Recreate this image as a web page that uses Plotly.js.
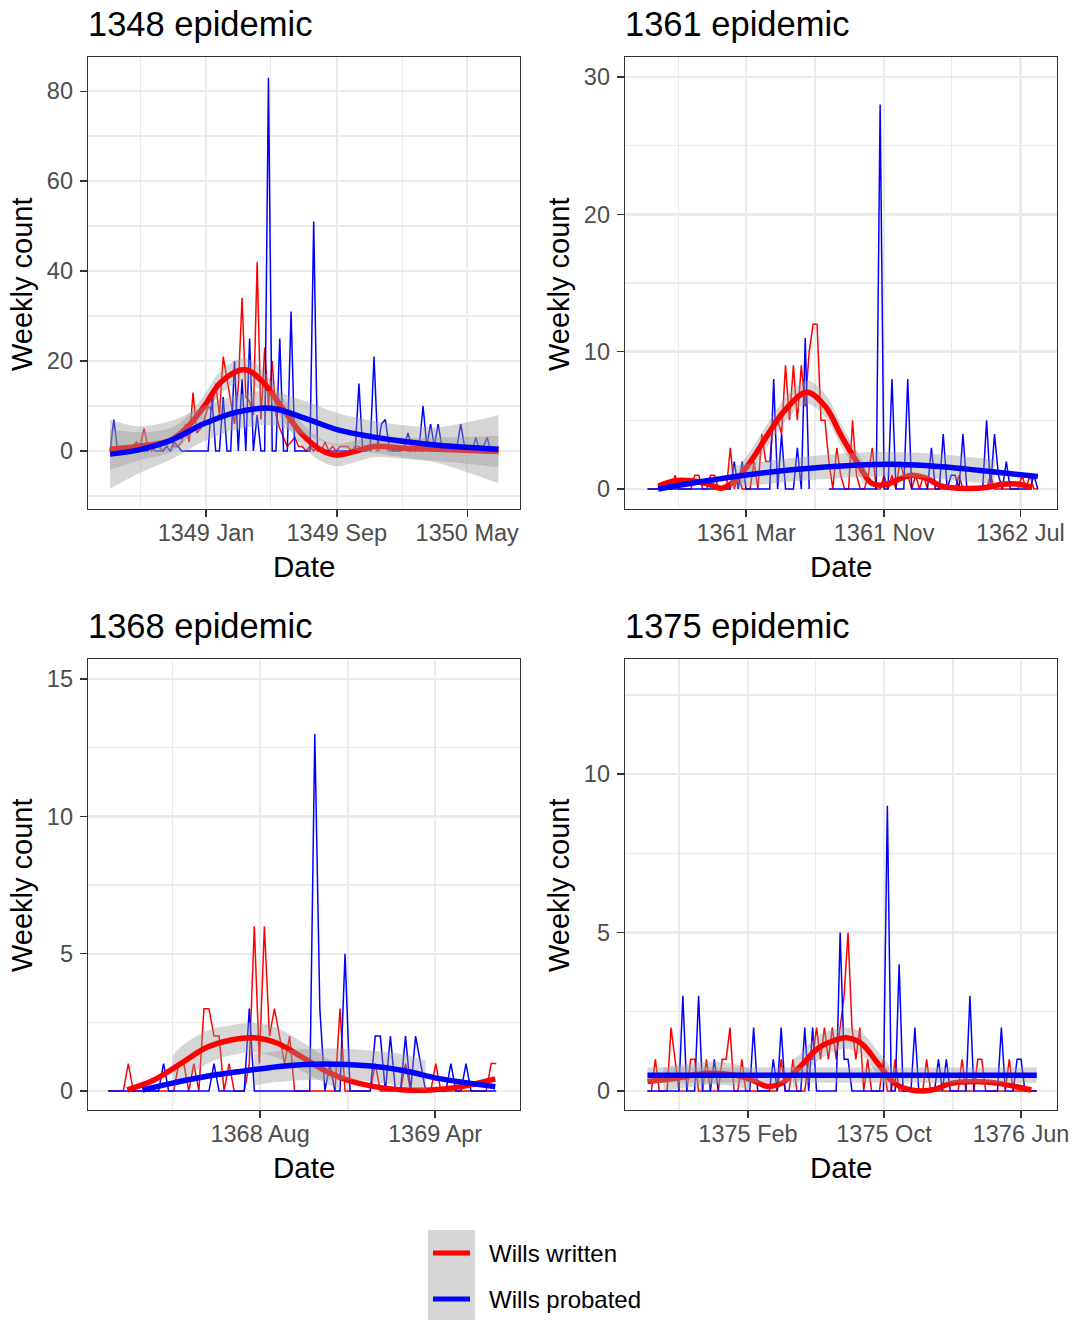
<!DOCTYPE html>
<html><head><meta charset="utf-8">
<script src="https://cdn.plot.ly/plotly-3.0.1.min.js"></script>
<style>html,body{margin:0;padding:0;background:#fff}#chart{width:1074px;height:1320px}</style>
</head><body><div id="chart"></div>
<script>
// ---------------- data ----------------
const seriesNames = ['Wills written', 'Wills probated'];
const panelTitles = ['1348 epidemic', '1361 epidemic', '1368 epidemic', '1375 epidemic'];
const weekStart = ['1348-07-07', '1360-09-07', '1368-01-03', '1374-08-06'];

// weekly counts
const written1348 = [0,0,1,1,0,0,1,2,1,5, 1,0,1,1,0,1,3,1,1,2, 6,2,13,4,5,7,10,9,15,8, 21,16,12,6,14,34,12,11,8,42,
  7,23,10,20,8,5,3,1,2,3, 1,1,0,1,0,1,0,2,0,1, 0,1,1,1,0,1,1,0,1,0, 1,0,1,1,0,0,1,0,1,0, 0,1,0,0,1,0,0,0,1,0,
  0,0,1,0,0,0,0,1,0,0, 0,0,0,0];
const probated1348 = [0,7,0,0,0,1,0,0,0,0, 0,1,0,0,0,1,0,2,1,0, 0,0,0,0,0,0,0,12,0,0, 12,0,0,20,0,16,0,25,0,8,
  0,0,83,0,0,25,0,0,31,0, 0,0,0,0,51,0,0,0,0,0, 0,0,0,0,0,0,15,0,0,1, 21,1,6,7,1,0,0,0,1,4, 1,0,1,10,1,6,1,6,1,0,
  0,0,1,6,1,0,0,3,0,1, 3,0,0,1];
const written1361 = [0,0,0,0,0,0,0,1,0,0, 0,0,1,1,0,0,1,1,0,0, 0,3,0,1,0,0,0,2,0,4, 2,2,5,5,4,9,5,9,5,9,
  6,10,12,12,5,5,2,0,3,1, 0,0,5,1,0,0,1,3,0,0, 1,0,1,0,2,1,1,0,1,0, 1,0,0,0,0,0,0,0,0,1, 0,0,0,0,0,0,0,1,0,0,
  0,0,0,0,0,1,0,1,0,0];
const probated1361 = [0,0,0,0,0,0,0,0,0,0, 0,0,0,0,0,0,0,0,0,0, 0,0,2,0,2,0,0,0,0,0, 0,0,8,0,4,0,0,0,3,0,
  11,0,null,null,null,null,0,0,0,0, 0,0,0,0,0,0,0,0,0,28, 0,0,8,0,0,0,8,0,0,0, 0,0,3,0,0,4,0,1,1,0,
  4,0,0,0,0,0,5,0,4,1, 0,2,0,0,0,0,0,0,1,0];
const written1368 = [0,0,0,0,1,0,0,0,0,0, 0,0,0,0,1,1,0,1,0,3, 3,2,2,0,1,0,0,0,1,6, 1,6,2,3,2,1,2,0,0,0,
  0,0,0,0,0,0,3,0,0,0, 0,0,0,1,0,0,0,0,0,1, 0,0,0,0,0,1,0,0,0,0, 0,0,0,0,0,0,1,1];
const probated1368 = [0,0,0,0,0,0,0,0,0,0, 0,1,0,0,0,0,0,0,0,0, 0,1,0,0,0,0,0,0,3,0, 0,0,0,0,0,0,0,0,0,0,
  0,13,3,0,1,0,0,5,0,0, 0,0,0,2,2,0,2,0,0,2, 0,2,1,0,0,0,0,0,1,0, 0,1,0,0,0,0,0,0];
const written1375 = [0,0,1,0,0,0,2,1,0,0, 0,1,1,0,0,1,0,0,0,1, 1,2,0,0,1,0,0,0,0,0, 0,0,0,0,1,0,0,1,0,0,
  0,1,1,2,1,2,1,2,1,2, 3,5,2,1,2,0,1,0,0,0, 1,0,0,1,0,0,0,0,0,0, 0,1,0,0,0,0,0,0,0,0, 1,0,0,0,1,1,0,0,0,0,
  0,0,1,0,0,0,0,0,0,0];
const probated1375 = [0,0,0,0,0,0,0,0,0,3, 0,0,0,3,0,0,0,1,0,0, 0,0,0,0,0,0,0,2,0,0, 0,0,1,0,2,0,0,0,0,0,
  2,0,2,0,0,0,0,0,0,5, 1,1,0,0,0,0,0,0,0,0, 0,9,0,0,4,0,0,0,2,0, 0,0,0,0,1,0,1,0,0,0, 0,0,3,0,0,0,0,0,0,0,
  2,0,0,0,1,1,0,0,0,0];

// smoothed fits (week offset, value) and confidence bands
const written1348FitWeek = [0,7.3,16,20.6,25,29.5,35.7,40,45.4,50.7,56,60,64.9,70,78,87,103];
const written1348Fit = [0.4,1.0,2.4,5.4,10,15.4,18.1,15.8,9.9,3.9,0.2,-0.9,-0.1,1.0,0.6,0.4,-0.1];
const written1348BandWeek = [0,7.3,16,20.6,25,29.5,35.7,40,45.4,50.7,56,60,64.9,70,78,87,103];
const written1348BandLo = [-4.1,-2.2,-0.3,2.9,7.5,12.9,15.5,13.3,7.4,1.4,-2.3,-3.4,-2.5,-1.4,-1.8,-2.2,-3.6];
const written1348BandHi = [4.9,4.2,5.1,7.9,12.5,17.9,20.7,18.3,12.4,6.4,2.7,1.6,2.3,3.4,3.0,3.0,3.4];
const probated1348FitWeek = [0,7.3,16.2,25,33.9,42.7,51.6,60.4,69.3,78.1,87,103];
const probated1348Fit = [-0.7,0.2,2.4,6.1,8.7,9.5,7.3,4.7,3.2,2.1,1.3,0.4];
const probated1348BandWeek = [0,7.3,16.2,25,33.9,42.7,51.6,60.4,69.3,78.1,87,103];
const probated1348BandLo = [-8.4,-5.1,-1.9,2.2,4.9,5.7,3.5,1.0,-0.4,-1.5,-2.7,-7.2];
const probated1348BandHi = [7.0,5.5,6.7,10.0,12.5,13.3,11.1,8.4,6.8,5.7,5.3,8.0];

const written1361FitWeek = [2.7,6.9,11.2,15.4,18.8,22.2,26.4,30.7,34.9,40.4,45.1,49.3,53.6,56.9,60.3,63.7,67.1,70.5,74.7,79,85.8,90,94.2,97.6];
const written1361Fit = [0.2,0.6,0.6,0.35,0.05,0.6,2.1,4.05,5.75,7.04,6.0,3.8,1.75,0.4,0.3,0.7,1.0,0.8,0.2,0.05,0.1,0.35,0.35,0.1];
const written1361BandWeek = [23.5,26.4,30.7,34.9,40.4,45.1,49.3,53.6,55.3];
const written1361BandLo = [0.2,1.3,3.2,4.9,6.2,5.2,3.0,1.0,0.15];
const written1361BandHi = [1.8,2.9,4.9,6.6,7.9,6.9,4.6,2.5,1.7];
const probated1361FitWeek = [2.7,19.7,36.6,53.6,62,70.5,79,87.5,99];
const probated1361Fit = [0,0.8,1.4,1.75,1.8,1.7,1.5,1.26,0.9];
const probated1361BandWeek = [21,36.6,53.6,62,70.5,79,88];
const probated1361BandLo = [0.05,0.55,0.85,0.9,0.8,0.6,0.35];
const probated1361BandHi = [1.65,2.25,2.65,2.7,2.6,2.4,2.15];

const written1368FitWeek = [3.8,9.1,14.4,19.7,24.4,29,33.6,38.3,42.9,47.5,52.8,58.8,64.1,70.1,76.8];
const written1368Fit = [0.04,0.4,1.0,1.6,1.86,1.94,1.74,1.25,0.76,0.4,0.16,0.04,0.04,0.16,0.44];
const written1368BandWeek = [12.8,14.4,19.7,24.4,29,33.6,38.3,42.9,46];
const written1368BandLo = [0.05,0.3,1.0,1.3,1.4,1.2,0.75,0.3,0.05];
const written1368BandHi = [1.3,1.6,2.2,2.4,2.48,2.3,1.8,1.25,0.95];
const probated1368FitWeek = [6.8,12.5,19.1,25.7,32.3,38.9,45.6,52.2,58.8,65.4,72,76.8];
const probated1368Fit = [0.04,0.28,0.52,0.7,0.86,0.97,0.98,0.91,0.74,0.46,0.28,0.16];
const probated1368BandWeek = [29,32.3,38.9,45.6,52.2,58.8,63];
const probated1368BandLo = [0.2,0.3,0.4,0.42,0.35,0.15,0.03];
const probated1368BandHi = [1.35,1.42,1.53,1.55,1.48,1.33,1.1];

const written1375FitWeek = [0,6.9,15.4,22.2,26.4,30.7,34.1,38.3,43.4,47.6,50.6,54.4,58.6,62.9,67.1,72.2,77.3,83.2,89.2,97.6];
const written1375Fit = [0.3,0.4,0.56,0.5,0.35,0.14,0.24,0.7,1.35,1.6,1.68,1.5,0.87,0.24,0.03,0.03,0.24,0.3,0.24,0.03];
const written1375BandWeek = [4,10,15.4,22.2,26,null,37,38.3,43.4,47.6,50.6,54.4,58.6,61.5];
const written1375BandLo = [0.02,0.1,0.2,0.15,0.02,null,0.05,0.3,0.95,1.25,1.33,1.15,0.5,0.05];
const written1375BandHi = [0.75,0.85,0.92,0.85,0.7,null,1.0,1.1,1.75,1.95,2.0,1.85,1.25,0.8];
const probated1375FitWeek = [0,99];
const probated1375Fit = [0.5,0.5];
const probated1375BandWeek = [0,99];
const probated1375BandLo = [0.26,0.26];
const probated1375BandHi = [0.74,0.74];

// axis ticks
const xTickVals = [['1349-01-01','1349-09-01','1350-05-01'], ['1361-03-01','1361-11-01','1362-07-01'], ['1368-08-01','1369-04-01'], ['1375-02-01','1375-10-01','1376-06-01']];
const xTickText = [['1349 Jan','1349 Sep','1350 May'], ['1361 Mar','1361 Nov','1362 Jul'], ['1368 Aug','1369 Apr'], ['1375 Feb','1375 Oct','1376 Jun']];
const xMinorVals = [['1348-09-01','1349-05-01','1350-01-01'], ['1360-11-01','1361-07-01','1362-03-01'], ['1368-04-01','1368-12-01'], ['1374-10-01','1375-06-01','1376-02-01']];
const yTickVals = [[0,20,40,60,80],[0,10,20,30],[0,5,10,15],[0,5,10]];
const yMinorVals = [[-10,10,30,50,70],[5,15,25],[2.5,7.5,12.5],[2.5,7.5,12.5]];

// ---------------- helpers ----------------
function addDays(start, d) {
  const t = Date.parse(start + 'T00:00:00Z') + d * 86400000;
  const dt = new Date(t);
  const p = n => String(n).padStart(2, '0');
  return dt.getUTCFullYear() + '-' + p(dt.getUTCMonth() + 1) + '-' + p(dt.getUTCDate()) + ' ' + p(dt.getUTCHours()) + ':' + p(dt.getUTCMinutes());
}
const weekDates = (start, weeks) => weeks.map(w => w == null ? null : addDays(start, 7 * w));
const idx = arr => arr.map((_, i) => i);
function segments(ws, lo, hi) {
  const segs = []; let cur = null;
  ws.forEach((w, i) => {
    if (w == null) { cur = null; return; }
    if (!cur) { cur = {w: [], lo: [], hi: []}; segs.push(cur); }
    cur.w.push(w); cur.lo.push(lo[i]); cur.hi.push(hi[i]);
  });
  return segs;
}

const RED = '#FF0000', BLUE = '#0000FF', BAND = 'rgba(153,153,153,0.4)';
const panels = [
  {raw: [written1348, probated1348],
   fit: [[written1348FitWeek, written1348Fit], [probated1348FitWeek, probated1348Fit]],
   band: [[written1348BandWeek, written1348BandLo, written1348BandHi], [probated1348BandWeek, probated1348BandLo, probated1348BandHi]]},
  {raw: [written1361, probated1361],
   fit: [[written1361FitWeek, written1361Fit], [probated1361FitWeek, probated1361Fit]],
   band: [[written1361BandWeek, written1361BandLo, written1361BandHi], [probated1361BandWeek, probated1361BandLo, probated1361BandHi]]},
  {raw: [written1368, probated1368],
   fit: [[written1368FitWeek, written1368Fit], [probated1368FitWeek, probated1368Fit]],
   band: [[written1368BandWeek, written1368BandLo, written1368BandHi], [probated1368BandWeek, probated1368BandLo, probated1368BandHi]]},
  {raw: [written1375, probated1375],
   fit: [[written1375FitWeek, written1375Fit], [probated1375FitWeek, probated1375Fit]],
   band: [[written1375BandWeek, written1375BandLo, written1375BandHi], [probated1375BandWeek, probated1375BandLo, probated1375BandHi]]}
];
const colors = [RED, BLUE];

const traces = [];
panels.forEach((p, pi) => {
  const k = pi === 0 ? '' : String(pi + 1);
  const ax = {xaxis: 'x' + k, yaxis: 'y' + k};
  const start = weekStart[pi];
  p.raw.forEach((vals, si) => {
    traces.push(Object.assign({type: 'scatter', mode: 'lines', name: seriesNames[si], showlegend: false,
      x: weekDates(start, idx(vals)), y: vals, connectgaps: false,
      line: {color: colors[si], width: 1.5}}, ax));
  });
  [0, 1].forEach(si => {
    const [bw, blo, bhi] = p.band[si];
    segments(bw, blo, bhi).forEach(seg => {
      traces.push(Object.assign({type: 'scatter', mode: 'lines', showlegend: false, hoverinfo: 'skip',
        x: weekDates(start, seg.w), y: seg.lo, line: {width: 0, shape: 'spline', smoothing: 1}}, ax));
      traces.push(Object.assign({type: 'scatter', mode: 'lines', showlegend: false, hoverinfo: 'skip',
        x: weekDates(start, seg.w), y: seg.hi, fill: 'tonexty', fillcolor: BAND,
        line: {width: 0, shape: 'spline', smoothing: 1}}, ax));
    });
    const [fw, fv] = p.fit[si];
    traces.push(Object.assign({type: 'scatter', mode: 'lines', name: seriesNames[si] + ' (smoothed)', showlegend: false,
      x: weekDates(start, fw), y: fv, line: {color: colors[si], width: 5.5, shape: 'spline', smoothing: 1}}, ax));
  });
});

// ---------------- layout ----------------
const W = 1074, H = 1320, ML = 88, MR = 17, MT = 57, MB = 210;
const PW = W - ML - MR, PH = H - MT - MB;
const px = x => (x - ML) / PW;
const py = y => (H - MB - y) / PH;
const FONT = 'Liberation Sans, Arial, Helvetica, sans-serif';

const xDomains = [[px(88), px(520)], [px(625), px(1057)], [px(88), px(520)], [px(625), px(1057)]];
const yDomains = [[py(509), py(57)], [py(509), py(57)], [py(1110), py(659)], [py(1110), py(659)]];
const xRanges = [['1348-05-27','1350-08-07'], ['1360-07-29','1362-09-04'], ['1367-12-06','1369-07-28'], ['1374-06-27','1376-08-04']];
const yRanges = [[-12.9, 87.6], [-1.46, 31.46], [-0.69, 15.73], [-0.6, 13.63]];

const layout = {
  width: W, height: H, margin: {l: ML, r: MR, t: MT, b: MB},
  paper_bgcolor: '#FFFFFF', plot_bgcolor: '#FFFFFF', showlegend: false,
  font: {family: FONT, color: '#000000'},
  annotations: [], shapes: []
};
const common = {
  showline: true, linecolor: '#333333', linewidth: 1.3, mirror: true,
  ticks: 'outside', ticklen: 7, tickwidth: 1.3, tickcolor: '#333333',
  tickfont: {family: FONT, size: 23.5, color: '#4D4D4D'},
  showgrid: true, gridcolor: '#EBEBEB', gridwidth: 2.4, zeroline: false, automargin: false, fixedrange: true
};
for (let i = 0; i < 4; i++) {
  const k = i === 0 ? '' : String(i + 1);
  layout['xaxis' + k] = Object.assign({}, common, {
    domain: xDomains[i], anchor: 'y' + k, type: 'date', range: xRanges[i],
    tickmode: 'array', tickvals: xTickVals[i], ticktext: xTickText[i], ticklabelstandoff: -5,
    minor: {tickmode: 'array', tickvals: xMinorVals[i], showgrid: true, gridcolor: '#EBEBEB', gridwidth: 1.4, ticks: ''}
  });
  layout['yaxis' + k] = Object.assign({}, common, {
    domain: yDomains[i], anchor: 'x' + k, range: yRanges[i],
    tickmode: 'array', tickvals: yTickVals[i], ticktext: yTickVals[i].map(String), ticklabelstandoff: 2,
    minor: {tickmode: 'array', tickvals: yMinorVals[i], showgrid: true, gridcolor: '#EBEBEB', gridwidth: 1.4, ticks: ''}
  });
}

const titlePos = [[86, 24], [623, 24], [86, 626], [623, 626]];
const dateTitlePos = [[304, 566], [841, 566], [304, 1167], [841, 1167]];
const yTitlePos = [[22, 284], [559, 284], [22, 885], [559, 885]];
for (let i = 0; i < 4; i++) {
  layout.annotations.push({text: panelTitles[i], xref: 'paper', yref: 'paper', x: px(titlePos[i][0]), y: py(titlePos[i][1]),
    xanchor: 'left', yanchor: 'middle', showarrow: false, font: {family: FONT, size: 34.5, color: '#000'}});
  layout.annotations.push({text: 'Date', xref: 'paper', yref: 'paper', x: px(dateTitlePos[i][0]), y: py(dateTitlePos[i][1]),
    xanchor: 'center', yanchor: 'middle', showarrow: false, font: {family: FONT, size: 29.5, color: '#000'}});
  layout.annotations.push({text: 'Weekly count', xref: 'paper', yref: 'paper', x: px(yTitlePos[i][0]), y: py(yTitlePos[i][1]),
    xanchor: 'center', yanchor: 'middle', textangle: -90, showarrow: false, font: {family: FONT, size: 29, color: '#000'}});
}

// legend (drawn as keys + labels)
const legendKeyTop = [1230, 1275], legendKeyBottom = [1275, 1320], legendLineY = [1253, 1299];
for (let s = 0; s < 2; s++) {
  layout.shapes.push({type: 'rect', xref: 'paper', yref: 'paper', x0: px(428), x1: px(475),
    y0: py(legendKeyBottom[s]), y1: py(legendKeyTop[s]), fillcolor: BAND, line: {width: 0}, layer: 'above'});
  layout.shapes.push({type: 'line', xref: 'paper', yref: 'paper', x0: px(433), x1: px(470),
    y0: py(legendLineY[s]), y1: py(legendLineY[s]), line: {color: colors[s], width: 5}, layer: 'above'});
  layout.annotations.push({text: seriesNames[s], xref: 'paper', yref: 'paper', x: px(487), y: py(legendLineY[s]),
    xanchor: 'left', yanchor: 'middle', showarrow: false, font: {family: FONT, size: 24, color: '#000'}});
}

Plotly.newPlot('chart', traces, layout, {displayModeBar: false, staticPlot: true});
</script>
</body></html>
